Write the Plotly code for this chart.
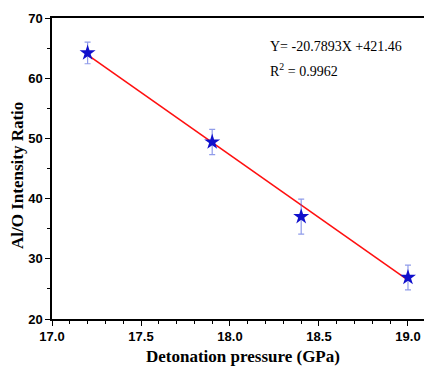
import plotly.graph_objects as go

pressure = [17.2, 17.9, 18.4, 19.0]
ratio = [64.2, 49.4, 37.0, 26.9]
err = [1.8, 2.1, 2.9, 2.05]
slope = -20.7893
intercept = 421.46
r2 = 0.9962
fit_y = [slope * x + intercept for x in pressure]

fig = go.Figure()
fig.add_trace(go.Scatter(
    x=[pressure[0], pressure[-1]], y=[fit_y[0], fit_y[-1]], mode="lines",
    line=dict(color="#ff1010", width=1.6), showlegend=False))
fig.add_trace(go.Scatter(
    x=pressure, y=ratio, mode="markers",
    marker=dict(symbol="star", size=12, color="#1010cc", line=dict(width=0)),
    error_y=dict(type="data", array=err, visible=True, color="rgba(70,90,220,0.6)",
                 thickness=1.2, width=3),
    showlegend=False))

fig.add_annotation(xref="x", yref="y", x=18.215, y=65.2, xanchor="left", yanchor="middle",
                   text=f"Y= {slope}X +{intercept}", showarrow=False,
                   font=dict(family="Liberation Serif", size=14, color="black"))
fig.add_annotation(xref="x", yref="y", x=18.215, y=61.3, xanchor="left", yanchor="middle",
                   text=f"R<sup>2</sup> = {r2}", showarrow=False,
                   font=dict(family="Liberation Serif", size=14, color="black"))
# axis titles
fig.add_annotation(xref="paper", yref="paper", x=(243 - 52) / 372, y=-(356 - 319) / 301,
                   xanchor="center", yanchor="middle", showarrow=False,
                   text="Detonation pressure (GPa)",
                   font=dict(family="Liberation Serif", size=17, color="black", weight="bold"))
fig.add_annotation(xref="paper", yref="paper", x=-(52 - 17) / 372, y=(319 - 176) / 301,
                   xanchor="center", yanchor="middle", showarrow=False, textangle=-90,
                   text="Al/O Intensity Ratio",
                   font=dict(family="Liberation Serif", size=17, color="black", weight="bold"))

fig.update_layout(
    width=424, height=368, margin=dict(l=52, r=0, t=18, b=49),
    plot_bgcolor="white", paper_bgcolor="white",
    xaxis=dict(range=[17.0, 19.09], tickvals=[17.0, 17.5, 18.0, 18.5, 19.0],
               ticktext=["17.0", "17.5", "18.0", "18.5", "19.0"],
               ticks="outside", ticklen=5, tickwidth=1.2, tickcolor="black",
               minor=dict(dtick=0.1, tick0=17.0, ticks="outside", ticklen=3, tickcolor="black", tickwidth=1),
               showline=True, linecolor="black", linewidth=1.5, mirror=True,
               showgrid=False, zeroline=False,
               tickfont=dict(family="Liberation Sans", size=13, color="black", weight="bold")),
    yaxis=dict(range=[20, 70], tickvals=[20, 30, 40, 50, 60, 70],
               ticks="outside", ticklen=5, tickwidth=1.2, tickcolor="black",
               minor=dict(dtick=5, tick0=20, ticks="outside", ticklen=3, tickcolor="black", tickwidth=1),
               showline=True, linecolor="black", linewidth=1.5,
               showgrid=False, zeroline=False,
               tickfont=dict(family="Liberation Sans", size=13, color="black", weight="bold")),
)
fig.write_html("out.html")
